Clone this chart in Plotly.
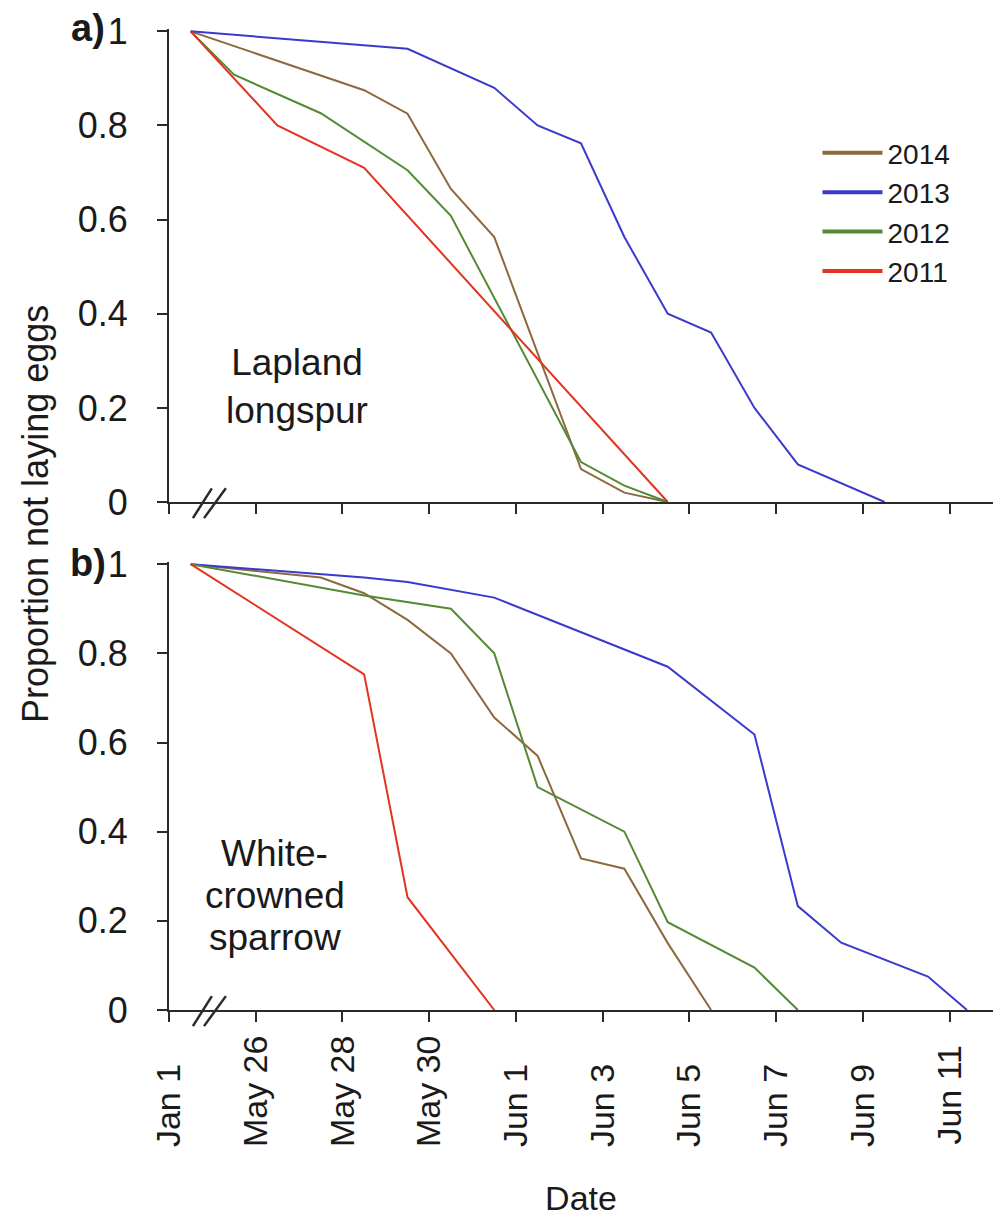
import plotly.graph_objects as go

# ---------------- data ----------------
# x positions in days on the broken date axis (0 = "Jan 1" break, 2 = May 26, ... 18 = Jun 11)
tick_vals = [0, 2, 4, 6, 8, 10, 12, 14, 16, 18]
tick_text = ["Jan 1", "May 26", "May 28", "May 30", "Jun 1", "Jun 3", "Jun 5", "Jun 7", "Jun 9", "Jun 11"]
y_tick_vals = [0, 0.2, 0.4, 0.6, 0.8, 1]
y_tick_text = ["0", "0.2", "0.4", "0.6", "0.8", "1"]

years = ["2014", "2013", "2012", "2011"]
colors = {"2014": "rgb(140,105,62)", "2013": "rgb(58,58,205)",
          "2012": "rgb(84,138,52)", "2011": "rgb(226,52,30)"}

# Panel a: Lapland longspur
a_x_2014 = [0.5, 4.5, 5.5, 6.5, 7.5, 9.5, 10.5, 11.5]
a_y_2014 = [1, 0.875, 0.825, 0.665, 0.563, 0.07, 0.02, 0]
a_x_2013 = [0.5, 5.5, 7.5, 8.5, 9.5, 10.5, 11.5, 12.5, 13.5, 14.5, 16.5]
a_y_2013 = [1, 0.963, 0.88, 0.80, 0.762, 0.563, 0.40, 0.36, 0.20, 0.08, 0]
a_x_2012 = [0.5, 1.5, 3.5, 5.5, 6.5, 9.5, 10.5, 11.5]
a_y_2012 = [1, 0.908, 0.826, 0.705, 0.608, 0.085, 0.035, 0]
a_x_2011 = [0.5, 2.5, 4.5, 11.5]
a_y_2011 = [1, 0.80, 0.71, 0]

# Panel b: White-crowned sparrow
b_x_2014 = [0.5, 3.5, 4.5, 5.5, 6.5, 7.5, 8.5, 9.5, 10.5, 11.5, 12.5]
b_y_2014 = [1, 0.97, 0.935, 0.875, 0.80, 0.656, 0.57, 0.34, 0.317, 0.15, 0]
b_x_2013 = [0.5, 4.5, 5.5, 7.5, 11.5, 13.5, 14.5, 15.5, 17.5, 18.4]
b_y_2013 = [1, 0.97, 0.96, 0.925, 0.77, 0.618, 0.233, 0.151, 0.075, 0]
b_x_2012 = [0.5, 4.5, 6.5, 7.5, 8.5, 10.5, 11.5, 13.5, 14.5]
b_y_2012 = [1, 0.93, 0.90, 0.80, 0.50, 0.40, 0.197, 0.095, 0]
b_x_2011 = [0.5, 4.5, 5.5, 7.5]
b_y_2011 = [1, 0.753, 0.253, 0]

panel_a = {"2014": (a_x_2014, a_y_2014), "2013": (a_x_2013, a_y_2013),
           "2012": (a_x_2012, a_y_2012), "2011": (a_x_2011, a_y_2011)}
panel_b = {"2014": (b_x_2014, b_y_2014), "2013": (b_x_2013, b_y_2013),
           "2012": (b_x_2012, b_y_2012), "2011": (b_x_2011, b_y_2011)}

FONT = "Liberation Sans, Arial, sans-serif"
TXT = "#1a1a1a"
AX = "#2a2a2a"

# Pad tick labels with trailing no-break spaces so the rotated labels share a common start
NBSP = "\u00a0"
pad_counts = {"Jan 1": 3, "Jun 1": 3, "Jun 3": 3, "Jun 5": 3, "Jun 7": 3, "Jun 9": 3, "Jun 11": 1}
tick_text_shown = [t + NBSP * pad_counts.get(t, 0) for t in tick_text]

fig = go.Figure()
for yr in years:
    xs, ys = panel_a[yr]
    fig.add_trace(go.Scatter(x=xs, y=ys, mode="lines", name=yr, legendgroup=yr,
                             line=dict(color=colors[yr], width=2),
                             xaxis="x", yaxis="y", showlegend=False))
for yr in years:
    xs, ys = panel_b[yr]
    fig.add_trace(go.Scatter(x=xs, y=ys, mode="lines", name=yr, legendgroup=yr,
                             line=dict(color=colors[yr], width=2),
                             xaxis="x2", yaxis="y2", showlegend=False))
# legend keys (thicker sample lines, as in the original legend)
for yr in years:
    fig.add_trace(go.Scatter(x=[None], y=[None], mode="lines", name=yr, legendgroup=yr,
                             line=dict(color=colors[yr], width=4),
                             xaxis="x", yaxis="y", showlegend=True))

common_x = dict(range=[0, 19], tickvals=tick_vals, ticks="outside", ticklen=10,
                tickwidth=2, tickcolor=AX, showline=True, linewidth=2, linecolor=AX,
                showgrid=False, zeroline=False, fixedrange=True)
common_y = dict(range=[0, 1.005], tickvals=y_tick_vals, ticktext=y_tick_text,
                ticks="outside", ticklen=10, tickwidth=2, tickcolor=AX,
                showline=True, linewidth=2, linecolor=AX, showgrid=False,
                zeroline=False, ticklabelstandoff=22,
                tickfont=dict(family=FONT, size=36, color=TXT))

fig.update_layout(
    width=993, height=1224,
    margin=dict(l=169, r=0, t=29, b=214, pad=0),
    paper_bgcolor="white", plot_bgcolor="white",
    font=dict(family=FONT, color=TXT),
    xaxis=dict(domain=[0, 1], anchor="y", showticklabels=False, **common_x),
    yaxis=dict(domain=[0.5178, 1], anchor="x", **common_y),
    xaxis2=dict(domain=[0, 1], anchor="y2", ticktext=tick_text_shown, tickangle=-90,
                tickfont=dict(family=FONT, size=34, color=TXT),
                title=dict(text="Date", font=dict(family=FONT, size=34, color=TXT), standoff=40),
                **common_x),
    yaxis2=dict(domain=[0, 0.4567], anchor="x2", **common_y),
    legend=dict(x=0.787, y=0.899, xanchor="left", yanchor="top",
                font=dict(family=FONT, size=28, color=TXT), itemwidth=60,
                bgcolor="rgba(255,255,255,0)", tracegroupgap=0),
    showlegend=True,
)

annotations = [
    dict(text="Proportion not laying eggs", textangle=-90, x=-0.1626, y=0.5056,
         xref="paper", yref="paper", xanchor="center", yanchor="middle",
         showarrow=False, font=dict(family=FONT, size=36, color=TXT)),
    dict(text="<b>a)</b>", x=-0.0983, y=1.001, xref="paper", yref="paper",
         xanchor="center", yanchor="middle", showarrow=False,
         font=dict(family=FONT, size=38, color=TXT)),
    dict(text="<b>b)</b>", x=-0.0983, y=0.4557, xref="paper", yref="paper",
         xanchor="center", yanchor="middle", showarrow=False,
         font=dict(family=FONT, size=38, color=TXT)),
    dict(text="Lapland<br>longspur", x=2.95, y=0.245, xref="x", yref="y",
         xanchor="center", yanchor="middle", showarrow=False,
         font=dict(family=FONT, size=37, color=TXT)),
]
for line_txt, yv in [("White-", 0.352), ("crowned", 0.257), ("sparrow", 0.162)]:
    annotations.append(dict(text=line_txt, x=2.44, y=yv, xref="x2", yref="y2",
                            xanchor="center", yanchor="middle", showarrow=False,
                            font=dict(family=FONT, size=37, color=TXT)))
fig.update_layout(annotations=annotations)

# axis-break marks "//"
shapes = []
for xr, yr_, ylo, yhi in [("x domain", "y domain", -0.034, 0.029),
                          ("x2 domain", "y2 domain", -0.036, 0.031)]:
    for x0, x1 in [(0.029, 0.052), (0.0425, 0.069)]:
        shapes.append(dict(type="line", xref=xr, yref=yr_, x0=x0, x1=x1,
                           y0=ylo, y1=yhi, line=dict(color=AX, width=2.5)))
fig.update_layout(shapes=shapes)

fig.write_html("out.html")
